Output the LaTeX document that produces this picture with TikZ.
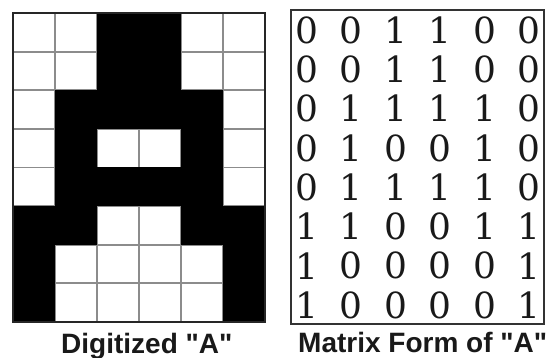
\documentclass[tikz,border=0pt]{standalone}
\usepackage{fontspec}
\newfontfamily\labelfont{Liberation Sans}
\newfontfamily\digitfont{DejaVu Serif}
\begin{document}
\begin{tikzpicture}[x=1pt,y=-1pt,
  gridline/.style={draw=gray!90, line width=1.8pt},
  blackcell/.style={fill=black},
  frame/.style={draw=black!85, line width=1.6pt},
  boxframe/.style={draw=black!80, line width=1.2pt},
  digit/.style={font=\digitfont\fontsize{36}{36}\selectfont, inner sep=0pt, anchor=center, text=black!90},
  caption/.style={font=\labelfont\bfseries\fontsize{28}{28}\selectfont, inner sep=0pt, anchor=base west, text=black!90}]
\useasboundingbox (0,0) rectangle (549,358);
\fill[white] (0,0) rectangle (549,358);
% grid
\def\cw{42}\def\ch{38.625}
\foreach \c in {1,...,5} \draw[gridline] ({13+\c*\cw},13) -- ({13+\c*\cw},322);
\foreach \r in {1,...,7} \draw[gridline] (13,{13+\r*\ch}) -- (265,{13+\r*\ch});
% black cells
\foreach \row [count=\i from 0] in {{0,0,1,1,0,0},{0,0,1,1,0,0},{0,1,1,1,1,0},{0,1,0,0,1,0},{0,1,1,1,1,0},{1,1,0,0,1,1},{1,0,0,0,0,1},{1,0,0,0,0,1}}{
  \foreach \v [count=\j from 0] in \row {
    \ifnum\v=1
      \fill[blackcell] ({13+\j*\cw-0.3},{13+\i*\ch-0.3}) rectangle ({13+(\j+1)*\cw+0.3},{13+(\i+1)*\ch+0.3});
    \fi
    \node[digit] (d\i\j) at ({307+\j*44.4},{30+\i*39.3}) {\v};
  }
}
\draw[frame] (13,13) rectangle (265,322);
\draw[boxframe] (291,10) rectangle (544,324);
\node[caption] (capA) at (61,353) {Digitized "A"};
\node[caption] (capB) at (298,352) {Matrix Form of "A"};
\end{tikzpicture}
\end{document}
